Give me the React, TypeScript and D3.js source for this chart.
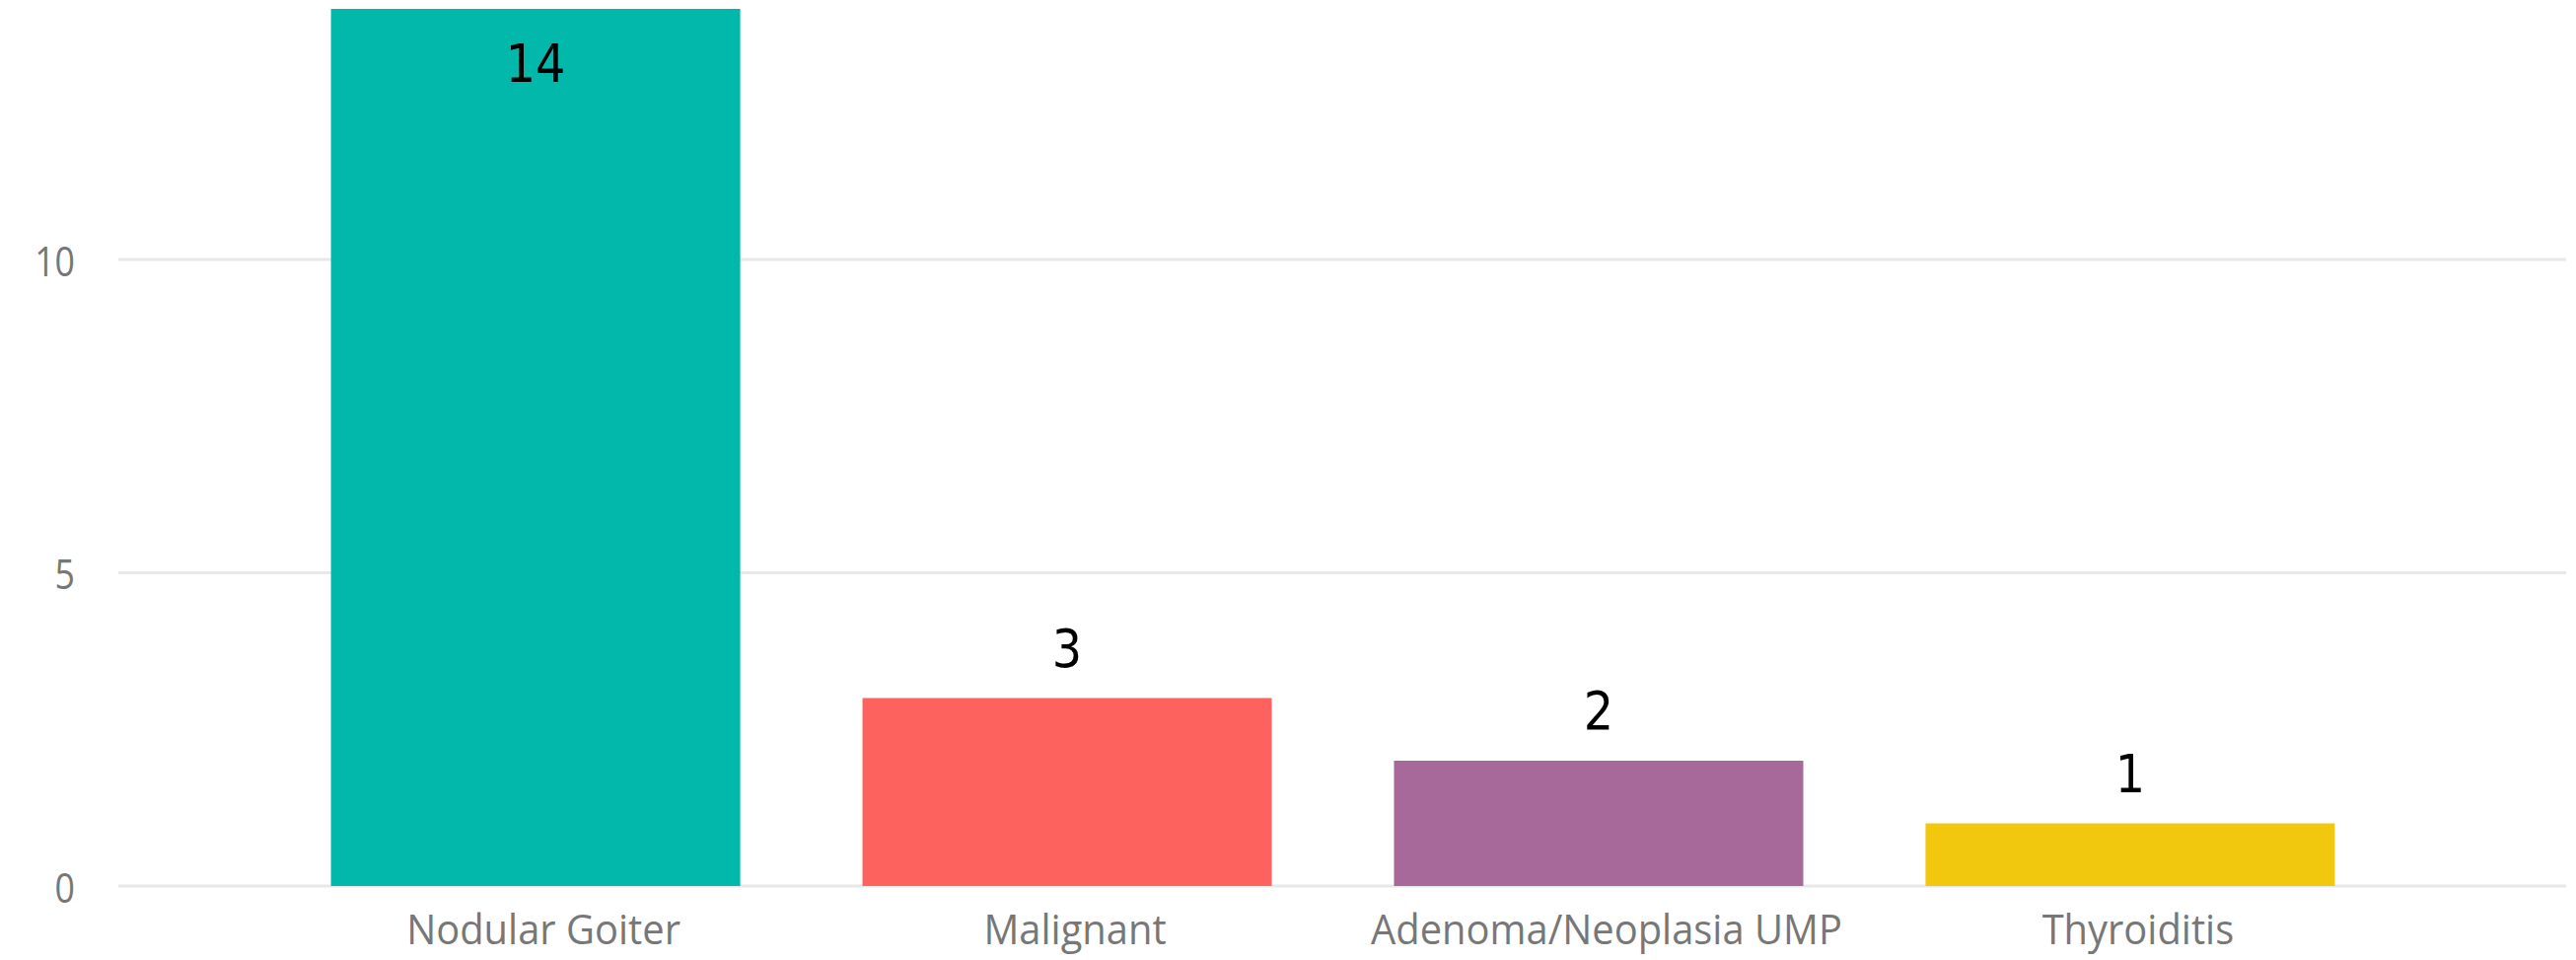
import React from "react";
import * as d3 from "d3";

const categories = ["Nodular Goiter", "Malignant", "Adenoma/Neoplasia UMP", "Thyroiditis"];
const counts = [14, 3, 2, 1];
const barColors = ["#01B8AA", "#FD625E", "#A66999", "#F2C80F"];
const yTicks = [0, 5, 10];

const W = 2612;
const H = 973;

export default function App() {
  const x = d3.scaleBand<string>()
    .domain(categories)
    .range([120, 2583])
    .paddingInner(0.23)
    .paddingOuter(0.4);

  const y = d3.scaleLinear()
    .domain([0, 14])
    .range([898, 9]);

  const labelFont = "'Liberation Sans Narrow', 'DejaVu Sans Condensed', sans-serif";
  const axisFont = "'Open Sans', 'Noto Sans', sans-serif";

  return (
    <svg width={W} height={H} style={{ position: "absolute", left: 0, top: 0, background: "#fff" }}>
      {/* gridlines */}
      {yTicks.map((t) => (
        <line key={"g" + t} x1={120} x2={2602} y1={y(t)} y2={y(t)} stroke="#e8e8e8" strokeWidth={3} />
      ))}
      {/* y tick labels */}
      {yTicks.map((t) => (
        <text key={"t" + t} transform={`translate(76,${y(t)}) scale(0.85,1)`} textAnchor="end"
          dominantBaseline="central" fill="#777" fontFamily={axisFont} fontSize={42}>
          {t}
        </text>
      ))}
      {/* bars */}
      {categories.map((c, i) => (
        <rect key={c} x={x(c)} y={y(counts[i])} width={x.bandwidth()} height={y(0) - y(counts[i])}
          fill={barColors[i]} />
      ))}
      {/* value labels */}
      {categories.map((c, i) => {
        const inside = y(counts[i]) < 60;
        const by = inside ? y(counts[i]) + 74 : y(counts[i]) - 32;
        return (
          <text key={"v" + c} x={x(c)! + x.bandwidth() / 2} y={by} textAnchor="middle"
            fill="#000" fontFamily={labelFont} fontSize={53}>
            {counts[i]}
          </text>
        );
      })}
      {/* category labels */}
      {categories.map((c) => (
        <text key={"c" + c} transform={`translate(${x(c)! + x.bandwidth() / 2 + 8},957) scale(0.95,1)`}
          textAnchor="middle" fill="#777" fontFamily={axisFont} fontSize={42}>
          {c}
        </text>
      ))}
    </svg>
  );
}
